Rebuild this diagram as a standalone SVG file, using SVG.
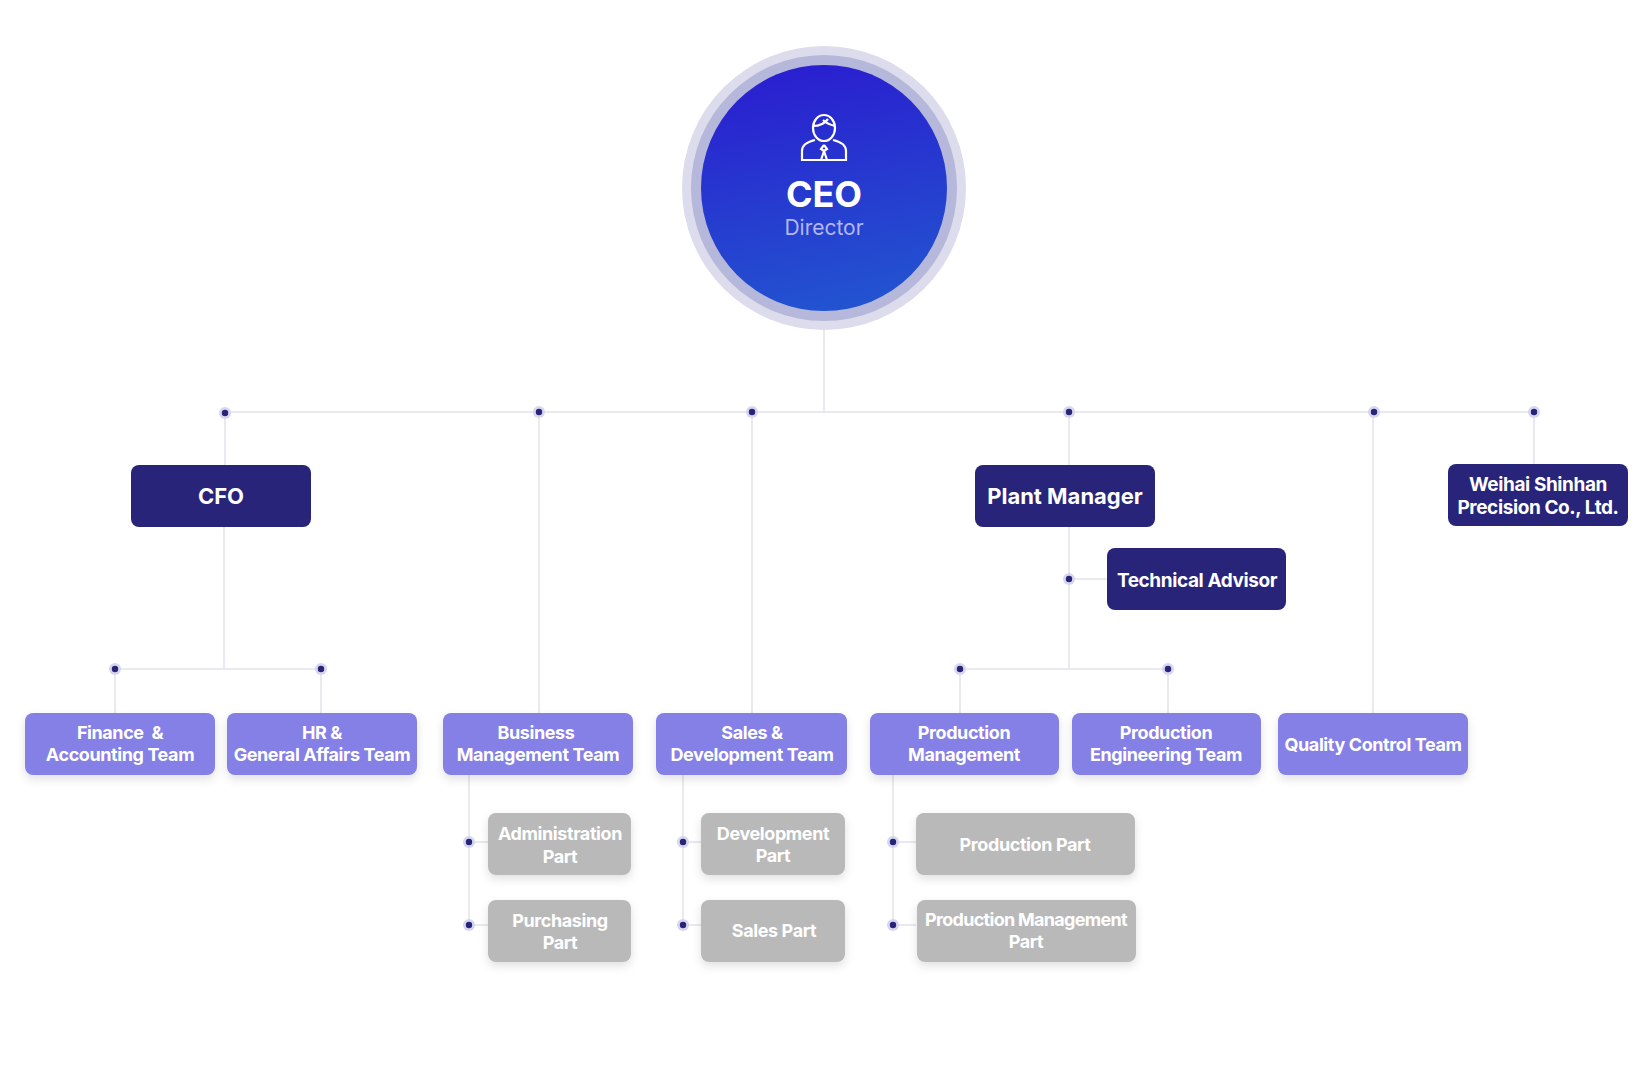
<svg xmlns="http://www.w3.org/2000/svg" width="1650" height="1067" viewBox="0 0 1650 1067">
<defs>
<linearGradient id="g" x1="0.4" y1="0" x2="0.6" y2="1"><stop offset="0" stop-color="#2a1fcf"/><stop offset="1" stop-color="#2254d0"/></linearGradient>
<filter id="sh" x="-20%" y="-20%" width="140%" height="160%"><feDropShadow dx="0" dy="4" stdDeviation="5" flood-color="#000" flood-opacity="0.12"/></filter>
</defs>
<style>
.l{stroke:#e2e2ea;stroke-width:1.5;fill:none}
.dh{fill:#d6d6ec}.dd{fill:#27247a}
.nv{fill:#27247a}.tm{fill:#8580e6;filter:url(#sh)}.pt{fill:#b9b9b9;filter:url(#sh)}
text{font-family:Inter,"Liberation Sans",sans-serif;font-weight:700;fill:#fff;text-anchor:middle}
.s{font-size:18px;letter-spacing:-0.4px}
.b{font-size:22px}
</style>
<rect width="1650" height="1067" fill="#fff"/>
<g id="connectors">
<path class="l" d="M824 320V412M225 412H1534M225 412V465M539 412V713M752 412V713M1069 412V465M1373 412V713M1534 412V464"/>
<path class="l" d="M224 527V669M115 669H321M115 669V713M321 669V713"/>
<path class="l" d="M1069 527V669M1069 579H1107M960 669H1168M960 669V713M1168 669V713"/>
<path class="l" d="M469 775V925M469 842H488M469 925H488M683 775V925M683 842H701M683 925H701M893 775V925M893 842H916M893 925H916"/>
<g>
<circle class="dh" cx="225" cy="413" r="6"/><circle class="dd" cx="225" cy="413" r="3.2"/>
<circle class="dh" cx="539" cy="412" r="6"/><circle class="dd" cx="539" cy="412" r="3.2"/>
<circle class="dh" cx="752" cy="412" r="6"/><circle class="dd" cx="752" cy="412" r="3.2"/>
<circle class="dh" cx="1069" cy="412" r="6"/><circle class="dd" cx="1069" cy="412" r="3.2"/>
<circle class="dh" cx="1374" cy="412" r="6"/><circle class="dd" cx="1374" cy="412" r="3.2"/>
<circle class="dh" cx="1534" cy="412" r="6"/><circle class="dd" cx="1534" cy="412" r="3.2"/>
<circle class="dh" cx="115" cy="669" r="6"/><circle class="dd" cx="115" cy="669" r="3.2"/>
<circle class="dh" cx="321" cy="669" r="6"/><circle class="dd" cx="321" cy="669" r="3.2"/>
<circle class="dh" cx="960" cy="669" r="6"/><circle class="dd" cx="960" cy="669" r="3.2"/>
<circle class="dh" cx="1168" cy="669" r="6"/><circle class="dd" cx="1168" cy="669" r="3.2"/>
<circle class="dh" cx="1069" cy="579" r="6"/><circle class="dd" cx="1069" cy="579" r="3.2"/>
<circle class="dh" cx="469" cy="842" r="6"/><circle class="dd" cx="469" cy="842" r="3.2"/>
<circle class="dh" cx="469" cy="925" r="6"/><circle class="dd" cx="469" cy="925" r="3.2"/>
<circle class="dh" cx="683" cy="842" r="6"/><circle class="dd" cx="683" cy="842" r="3.2"/>
<circle class="dh" cx="683" cy="925" r="6"/><circle class="dd" cx="683" cy="925" r="3.2"/>
<circle class="dh" cx="893" cy="842" r="6"/><circle class="dd" cx="893" cy="842" r="3.2"/>
<circle class="dh" cx="893" cy="925" r="6"/><circle class="dd" cx="893" cy="925" r="3.2"/>
</g>
</g>
<g id="ceo">
<circle cx="824" cy="188" r="142" fill="#dcdcec"/>
<circle cx="824" cy="188" r="133" fill="#b5b8da"/>
<circle cx="824" cy="188" r="123" fill="url(#g)"/>
<g fill="none" stroke="#fff" stroke-width="2.2">
<path d="M813 128a11 13 0 1 0 22 0a11 13 0 1 0 -22 0M813 126c6 0 12-3 15-7M823 120c3 3 8 5 12 6"/>
<path d="M815 140c-9 2-13 6-13 11v9h44v-9c0-5-4-9-13-11"/>
<path d="M824 145l-3 4 3 2-3 9M824 151l3 9M824 145l3 4-3 2"/>
</g>
<text x="824" y="207" style="font-size:36px">CEO</text>
<text x="824" y="235" style="font-size:21px;font-weight:400;fill:#b4b7ee">Director</text>
</g>
<g id="cfo"><rect class="nv" x="131" y="465" width="180" height="62" rx="8"/><text class="b" x="221" y="504">CFO</text></g>
<g id="plant"><rect class="nv" x="975" y="465" width="180" height="62" rx="8"/><text class="b" x="1065" y="504">Plant Manager</text></g>
<g id="tech"><rect class="nv" x="1107" y="548" width="179" height="62" rx="8"/><text x="1197" y="587" style="font-size:19px;letter-spacing:-0.4px">Technical Advisor</text></g>
<g id="weihai"><rect class="nv" x="1448" y="464" width="180" height="62" rx="8"/><text x="1538" y="491" style="font-size:19px;letter-spacing:-0.4px">Weihai Shinhan</text><text x="1538" y="514" style="font-size:19px;letter-spacing:-0.4px">Precision Co., Ltd.</text></g>
<g id="finance"><rect class="tm" x="25" y="713" width="190" height="62" rx="8"/><text class="s" x="120" y="739" xml:space="preserve">Finance  &amp;</text><text class="s" x="120" y="761">Accounting Team</text></g>
<g id="hr"><rect class="tm" x="227" y="713" width="190" height="62" rx="8"/><text class="s" x="322" y="739">HR &amp;</text><text class="s" x="322" y="761">General Affairs Team</text></g>
<g id="business"><rect class="tm" x="443" y="713" width="190" height="62" rx="8"/><text class="s" x="536" y="739">Business</text><text class="s" x="538" y="761">Management Team</text></g>
<g id="sales"><rect class="tm" x="656" y="713" width="191" height="62" rx="8"/><text class="s" x="752" y="739">Sales &amp;</text><text class="s" x="752" y="761">Development Team</text></g>
<g id="prodmgmt"><rect class="tm" x="870" y="713" width="189" height="62" rx="8"/><text class="s" x="964" y="739">Production</text><text class="s" x="964" y="761">Management</text></g>
<g id="prodeng"><rect class="tm" x="1072" y="713" width="189" height="62" rx="8"/><text class="s" x="1166" y="739">Production</text><text class="s" x="1166" y="761">Engineering Team</text></g>
<g id="qc"><rect class="tm" x="1278" y="713" width="190" height="62" rx="8"/><text class="s" x="1373" y="751">Quality Control Team</text></g>
<g id="admin"><rect class="pt" x="488" y="813" width="143" height="62" rx="8"/><text class="s" x="560" y="840">Administration</text><text class="s" x="560" y="863">Part</text></g>
<g id="purch"><rect class="pt" x="488" y="900" width="143" height="62" rx="8"/><text class="s" x="560" y="927">Purchasing</text><text class="s" x="560" y="949">Part</text></g>
<g id="dev"><rect class="pt" x="701" y="813" width="144" height="62" rx="8"/><text class="s" x="773" y="840">Development</text><text class="s" x="773" y="862">Part</text></g>
<g id="salespart"><rect class="pt" x="701" y="900" width="144" height="62" rx="8"/><text class="s" x="774" y="937">Sales Part</text></g>
<g id="prodpart"><rect class="pt" x="916" y="813" width="219" height="62" rx="8"/><text class="s" x="1025" y="851">Production Part</text></g>
<g id="pmpart"><rect class="pt" x="917" y="900" width="219" height="62" rx="8"/><text class="s" x="1026" y="926" style="letter-spacing:-0.7px">Production Management</text><text class="s" x="1026" y="948">Part</text></g>
</svg>
